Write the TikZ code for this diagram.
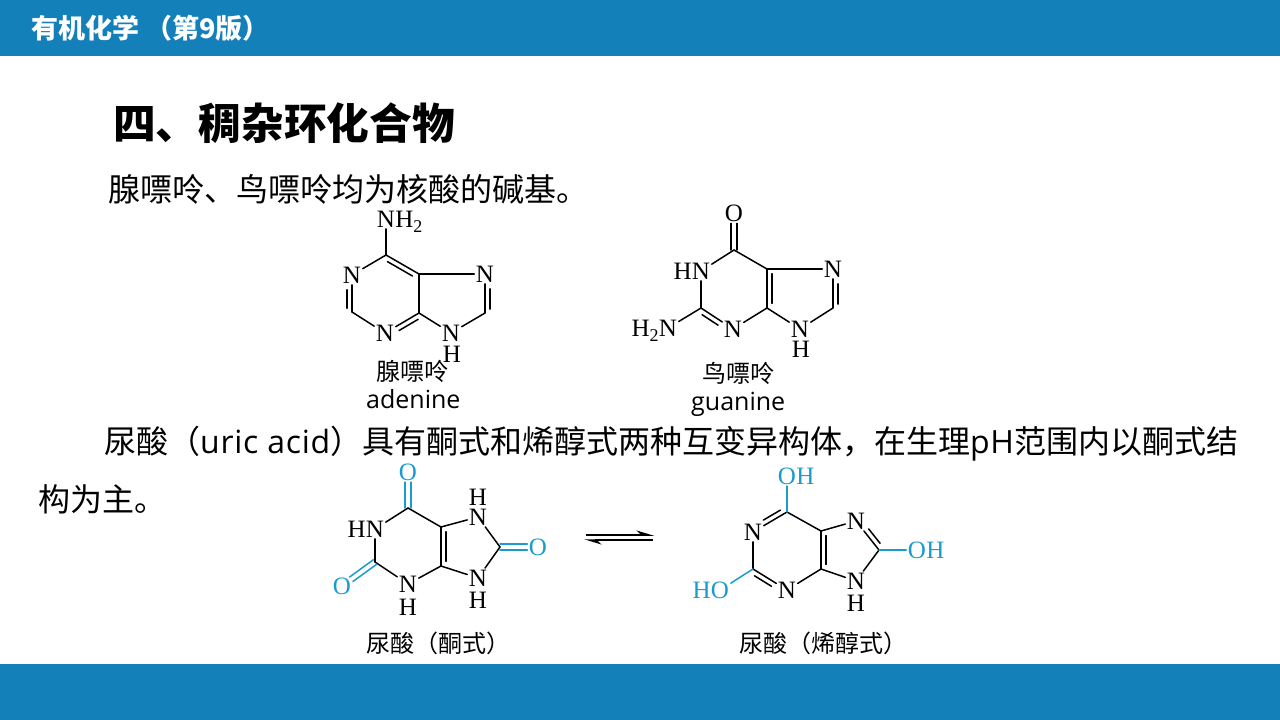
\documentclass[tikz,border=0pt]{standalone}
\usepackage{fontspec}
\usepackage{xcolor}
\setmainfont{Liberation Serif}
\newfontfamily\cjk{Noto Sans CJK SC}
\newfontfamily\lat{Open Sans}
\newfontfamily\latw[LetterSpace=2.2]{Open Sans}
\usetikzlibrary{arrows.meta}
\usetikzlibrary{calc}
\definecolor{barblue}{HTML}{1480B9}
\definecolor{ketoblue}{HTML}{1A9BCB}
\newcommand{\fs}[1]{\fontsize{#1}{#1}\selectfont}
\newcommand{\subtwo}{{\fs{18}\raisebox{-5pt}{2}}}
\tikzset{
  atom/.style={inner sep=1.5pt,font=\fs{25}},
  atomb/.style={atom,text=ketoblue},
  atomr/.style={atom,anchor=base west,inner sep=0pt,xshift=-1.5pt},
  atoml/.style={atom,anchor=base east,inner sep=0pt,xshift=1.5pt},
  bondl/.style={black,line width=1.5pt,line cap=round},
  bondb/.style={ketoblue,line width=1.5pt,line cap=round},
  txt/.style={anchor=west,inner sep=0pt,font=\cjk\fs{32}},
  capzh/.style={anchor=west,inner sep=0pt,font=\cjk\fs{24}},
  eng/.style={anchor=base west,inner sep=0pt,font=\lat\fs{25}}
}
\begin{document}
\begin{tikzpicture}[x=1pt,y=-1pt]
\useasboundingbox (0,0) rectangle (1280,720);
\fill[barblue] (0,0) rectangle (1280,56);
\fill[barblue] (0,664) rectangle (1280,720);
\node[anchor=west,inner sep=0pt,text=white,font=\cjk\bfseries\fs{27}] (head) at (31,28) {有机化学 （第9版）};
\node[anchor=west,inner sep=0pt,font=\cjk\bfseries\fs{42.7}] (title) at (113,123) {四、稠杂环化合物};
\node[txt] (line1) at (108,189) {腺嘌呤、鸟嘌呤均为核酸的碱基。};
\node[txt] (line2) at (104,444) {尿酸（{\latw uric acid}）具有酮式和烯醇式两种互变异构体，在生理{\latw pH}范围内以酮式结};
\node[txt] (line3) at (38,499) {构为主。};
%% adenine
\coordinate (a6) at (386,255);
\coordinate (a2) at (352,312);
\coordinate (a4) at (419,313);
\coordinate (a5) at (419,274);
\coordinate (a8) at (485,313);
\node[atom] (an) at (386,219) {N};
\node[atomr] (anh) at (an.base east) {H\subtwo};
\node[atom] (a1) at (352,275) {N};
\node[atom] (a3) at (385,333) {N};
\node[atom] (a7) at (485,274) {N};
\node[atom] (a9) at (451,333) {N};
\node[atom] (a9h) at (452,354) {H};
\foreach \p/\q in {an/a6,a6/a1,a1/a2,a2/a3,a3/a4,a4/a5,a5/a6,a5/a7,a7/a8,a8/a9,a9/a4}
    \draw[bondl] (\p) -- (\q);
\foreach \p/\q/\s/\e in {a5/a6/.12/.88,a4/a3/.1/.66,a2/a1/.1/.6,a7/a8/.38/.9}
    \draw[bondl] ($(\p)!\s!(\q)!5pt!90:(\q)$) -- ($(\p)!\e!(\q)!5pt!90:(\q)$);
\node[capzh] (acn) at (376,371) {腺嘌呤};
\node[eng] (aen) at (366,408) {adenine};
%% guanine
\coordinate (g6) at (734,250);
\coordinate (g2) at (701,308);
\coordinate (g4) at (767,308);
\coordinate (g5) at (767,269);
\coordinate (g8) at (833,308);
\node[atom] (go) at (734,213) {O};
\node[atom] (g1) at (701,271) {N};
\node[atoml] (g1h) at (g1.base west) {H};
\node[atom] (gn) at (668,328) {N};
\node[atoml] (gnh) at (gn.base west) {H\subtwo};
\node[atom] (g3) at (733,329) {N};
\node[atom] (g7) at (833,269) {N};
\node[atom] (g9) at (800,329) {N};
\node[atom] (g9h) at (801,349) {H};
\foreach \p/\q in {g6/g1,g1/g2,g2/gn,g2/g3,g3/g4,g4/g5,g5/g6,g5/g7,g7/g8,g8/g9,g9/g4}
    \draw[bondl] (\p) -- (\q);
\foreach \p/\q/\s/\e in {g2/g3/.12/.62,g4/g5/.12/.88,g8/g7/.1/.62}
    \draw[bondl] ($(\p)!\s!(\q)!5pt!-90:(\q)$) -- ($(\p)!\e!(\q)!5pt!-90:(\q)$);
\draw[bondl] ($(g6)!2.8pt!90:(go)$) -- ($(go)!.28!(g6)!2.8pt!-90:(g6)$);
\draw[bondl] ($(g6)!2.8pt!-90:(go)$) -- ($(go)!.28!(g6)!2.8pt!90:(g6)$);
\node[capzh] (gcn) at (702,373) {鸟嘌呤};
\node[eng] (gen) at (691,410) {guanine};
%% uric acid, keto form
\coordinate (k6) at (408,508);
\coordinate (k2) at (375,562);
\coordinate (k4) at (441,566);
\coordinate (k5) at (441,527);
\coordinate (k8) at (500,547);
\node[atomb] (ko6) at (408,472) {O};
\node[atom] (k1) at (375,529) {N};
\node[atoml] (k1h) at (k1.base west) {H};
\node[atomb] (ko2) at (342,586) {O};
\node[atom] (k3) at (408,584) {N};
\node[atom] (k3h) at (408,607) {H};
\node[atom] (k7) at (478,517) {N};
\node[atom] (k7h) at (478,497) {H};
\node[atomb] (ko8) at (538,547) {O};
\node[atom] (k9) at (478,578) {N};
\node[atom] (k9h) at (478,600) {H};
\foreach \p/\q in {k6/k1,k1/k2,k2/k3,k3/k4,k4/k5,k5/k6,k5/k7,k7/k8,k8/k9,k9/k4}
    \draw[bondl] (\p) -- (\q);
\draw[bondl] ($(k4)!.12!(k5)!5pt!-90:(k5)$) -- ($(k4)!.88!(k5)!5pt!-90:(k5)$);
\foreach \p/\q in {k6/ko6,k2/ko2,k8/ko8}{
    \draw[bondb] ($(\p)!2.8pt!90:(\q)$) -- ($(\q)!.28!(\p)!2.8pt!-90:(\p)$);
    \draw[bondb] ($(\p)!2.8pt!-90:(\q)$) -- ($(\q)!.28!(\p)!2.8pt!90:(\p)$);
}
\node[capzh] (kcn) at (366,643) {尿酸（酮式）};
%% equilibrium arrows
\coordinate (eqa) at (586,535);
\coordinate (eqb) at (654,535);
\coordinate (eqc) at (653,540);
\coordinate (eqd) at (584,540);
\draw[black,line width=1.5pt,-{Stealth[harpoon,length=15pt,width=9pt]}] (eqa) -- (eqb);
\draw[black,line width=1.5pt,-{Stealth[harpoon,length=15pt,width=9pt]}] (eqc) -- (eqd);
%% uric acid, enol form
\coordinate (e6) at (787,512);
\coordinate (e2) at (753,569);
\coordinate (e4) at (821,569);
\coordinate (e5) at (821,531);
\coordinate (e8) at (879,550);
\node[atomb] (eo6) at (787,476) {O};
\node[atomr,text=ketoblue] (eo6h) at (eo6.base east) {H};
\node[atom] (e1) at (753,532) {N};
\node[atomb] (eo2) at (720,590) {O};
\node[atoml,text=ketoblue] (eo2h) at (eo2.base west) {H};
\node[atom] (e3) at (787,590) {N};
\node[atom] (e7) at (856,521) {N};
\node[atomb] (eo8) at (917,550) {O};
\node[atomr,text=ketoblue] (eo8h) at (eo8.base east) {H};
\node[atom] (e9) at (856,581) {N};
\node[atom] (e9h) at (856,603) {H};
\foreach \p/\q in {e6/e1,e1/e2,e2/e3,e3/e4,e4/e5,e5/e6,e5/e7,e7/e8,e8/e9,e9/e4}
    \draw[bondl] (\p) -- (\q);
\foreach \p/\q in {e6/eo6,e2/eo2,e8/eo8}
    \draw[bondb] (\p) -- (\q);
\foreach \p/\q/\s/\e in {e6/e1/.12/.62,e2/e3/.12/.62,e4/e5/.12/.88,e8/e7/.12/.62}
    \draw[bondl] ($(\p)!\s!(\q)!5pt!-90:(\q)$) -- ($(\p)!\e!(\q)!5pt!-90:(\q)$);
\node[capzh] (ecn) at (739,643) {尿酸（烯醇式）};
\end{tikzpicture}
\end{document}
